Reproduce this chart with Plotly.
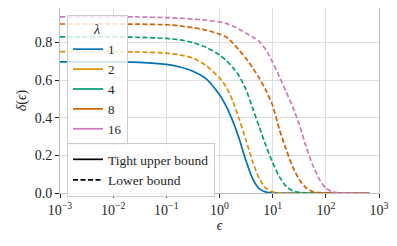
import plotly.graph_objects as go

# log10(epsilon) sample positions
log_eps = [-3, -2.5, -2, -1.5, -1, -0.75, -0.5, -0.25, 0, 0.125, 0.25, 0.375, 0.5, 0.625,
           0.75, 0.875, 1.0, 1.125, 1.25, 1.375, 1.5, 1.625, 1.75, 1.875, 2.0, 2.125, 2.25,
           2.5, 2.82]

# delta(eps)
delta_l1_upper = [0.697, 0.697, 0.697, 0.695, 0.684, 0.670, 0.648, 0.607, 0.522, 0.462, 0.382,
                  0.285, 0.170, 0.075, 0.022, 0.005, 0.001, 0, 0, 0, 0, 0, 0, 0, 0, 0, 0, 0, 0]
delta_l2_lower = [0.752, 0.752, 0.752, 0.750, 0.744, 0.735, 0.718, 0.678, 0.612, 0.565, 0.490,
                  0.390, 0.280, 0.165, 0.075, 0.025, 0.006, 0.001, 0, 0, 0, 0, 0, 0, 0, 0, 0, 0, 0]
delta_l4_lower = [0.830, 0.830, 0.830, 0.828, 0.822, 0.815, 0.800, 0.775, 0.735, 0.705, 0.668,
                  0.620, 0.550, 0.450, 0.350, 0.250, 0.162, 0.087, 0.036, 0.012, 0.003, 0.001,
                  0, 0, 0, 0, 0, 0, 0]
delta_l8_lower = [0.899, 0.899, 0.899, 0.898, 0.895, 0.889, 0.880, 0.866, 0.845, 0.830, 0.798,
                  0.757, 0.715, 0.665, 0.610, 0.545, 0.465, 0.340, 0.235, 0.140, 0.072, 0.028,
                  0.008, 0.002, 0.0005, 0, 0, 0, 0]
delta_l16_lower = [0.937, 0.937, 0.937, 0.936, 0.933, 0.930, 0.925, 0.919, 0.910, 0.902, 0.888,
                   0.870, 0.850, 0.830, 0.805, 0.760, 0.695, 0.620, 0.540, 0.460, 0.365, 0.250,
                   0.150, 0.075, 0.025, 0.006, 0.001, 0, 0]

lambdas = ["1", "2", "4", "8", "16"]
colors = ["#0173b2", "#de8f05", "#029e73", "#d55e00", "#cc78bc"]
x_tick_exps = [-3, -2, -1, 0, 1, 2, 3]
y_ticks = [0.0, 0.2, 0.4, 0.6, 0.8]

eps = [10 ** e for e in log_eps]
series = [delta_l1_upper, delta_l2_lower, delta_l4_lower, delta_l8_lower, delta_l16_lower]
DASH = "5px,2.5px"
FONT = "Liberation Serif"

fig = go.Figure()
for i, (lam, ys, col) in enumerate(zip(lambdas, series, colors)):
    fig.add_trace(go.Scatter(
        x=eps, y=ys, mode="lines", name=lam, legend="legend",
        line=dict(color=col, width=1.7, dash="solid" if i == 0 else DASH,
                  shape="spline", smoothing=0.6),
        showlegend=False))
# λ legend entries (solid)
for lam, col in zip(lambdas, colors):
    fig.add_trace(go.Scatter(x=[None], y=[None], mode="lines", name=lam, legend="legend",
                             line=dict(color=col, width=1.7)))
# linestyle legend entries
fig.add_trace(go.Scatter(x=[None], y=[None], mode="lines", name="Tight upper bound",
                         legend="legend2", line=dict(color="black", width=1.7)))
fig.add_trace(go.Scatter(x=[None], y=[None], mode="lines", name="Lower bound",
                         legend="legend2", line=dict(color="black", width=1.7, dash=DASH)))

# the page body adds an 8px margin, so the figure is 8px smaller than the window
fig.update_layout(
    width=389, height=238,
    margin=dict(l=52, r=18, t=0, b=53, autoexpand=False),
    paper_bgcolor="white", plot_bgcolor="white",
    font=dict(family=FONT, size=13, color="#262626"),
    legend=dict(x=0.022, y=0.962, xanchor="left", yanchor="top",
                title=dict(text="<i>λ</i>", side="top center", font=dict(size=14)),
                bgcolor="rgba(255,255,255,0.8)", bordercolor="#cccccc", borderwidth=1,
                font=dict(size=13), tracegroupgap=0),
    legend2=dict(x=0.022, y=0.27, xanchor="left", yanchor="top",
                 bgcolor="rgba(255,255,255,0.8)", bordercolor="#cccccc", borderwidth=1,
                 font=dict(size=13.5)),
    xaxis=dict(type="log", range=[-3, 3], automargin=False,
               tickvals=[10 ** e for e in x_tick_exps],
               ticktext=["10<sup>%s</sup>" % (str(e).replace("-", "−")) for e in x_tick_exps],
               ticks="outside", ticklen=4, tickcolor="#262626",
               showgrid=True, gridcolor="#dedede", gridwidth=1,
               showline=True, linecolor="#bdbdbd", linewidth=1, mirror=True,
               zeroline=False, tickfont=dict(size=14),
               title=dict(text="<i>ϵ</i>", font=dict(size=14), standoff=2)),
    yaxis=dict(range=[0, 0.984], tickvals=y_ticks, automargin=False,
               ticktext=["%.1f" % v for v in y_ticks],
               ticks="outside", ticklen=4, tickcolor="#262626",
               showgrid=True, gridcolor="#dedede", gridwidth=1,
               showline=True, linecolor="#bdbdbd", linewidth=1, mirror=True,
               zeroline=False, tickfont=dict(size=14),
               title=dict(text="<i>δ</i>(<i>ϵ</i>)", font=dict(size=14), standoff=4)),
)

fig.write_html("out.html")
